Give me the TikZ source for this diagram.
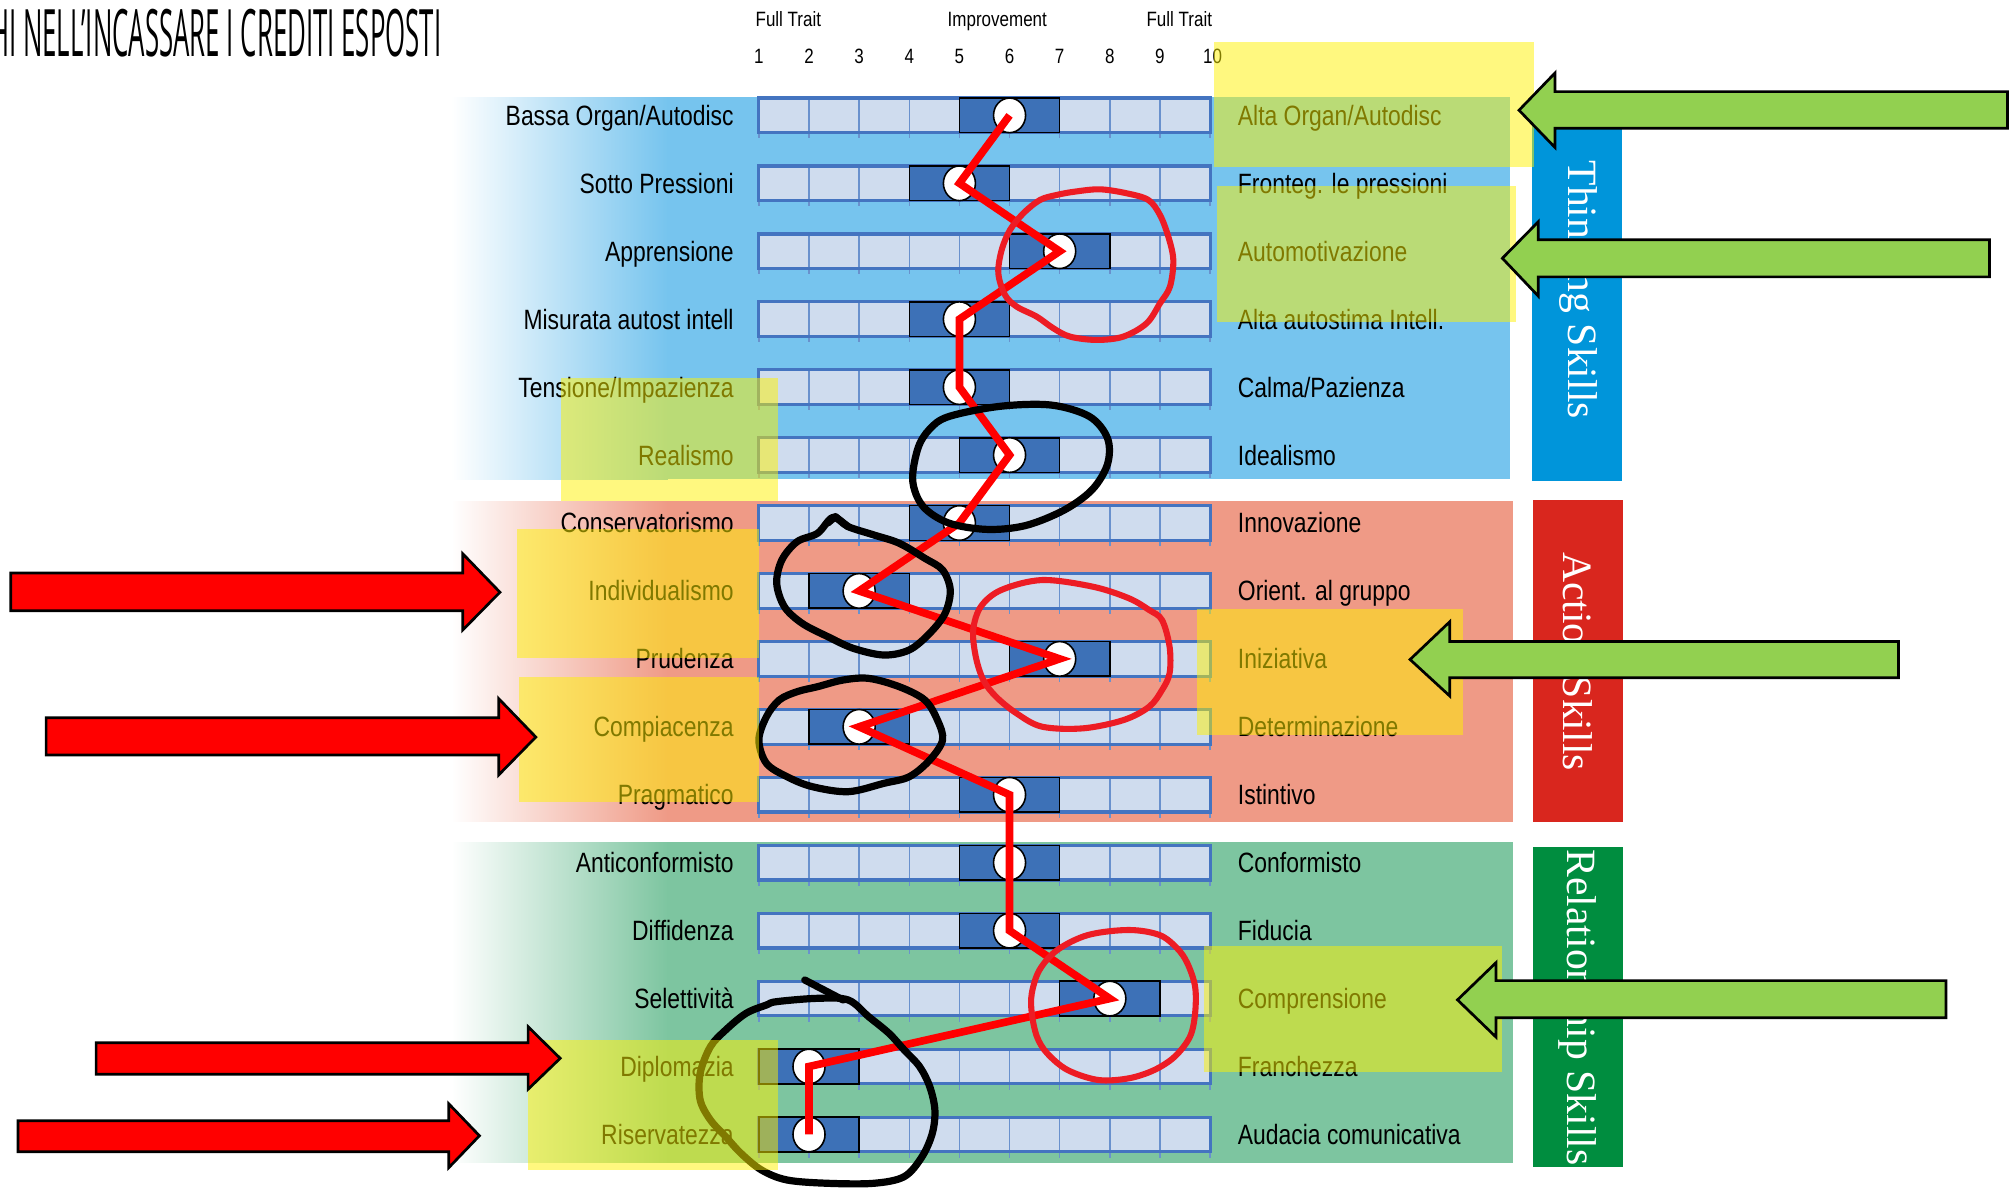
\documentclass[tikz,border=0pt]{standalone}
\usepackage{fontspec}
\setmainfont{Liberation Sans}
\newfontfamily\narrowfont[FakeStretch=0.82]{Liberation Sans}
\newfontfamily\sidefont{Liberation Serif}
\newfontfamily\titlefont{Open Sans}
\usepackage{graphicx}
\usetikzlibrary{shapes.geometric}
\definecolor{pblue}{RGB}{118,196,238}
\definecolor{psalmon}{RGB}{239,154,134}
\definecolor{pgreen}{RGB}{125,197,160}
\definecolor{sblue}{RGB}{0,149,218}
\definecolor{sred}{RGB}{217,38,30}
\definecolor{sgreen}{RGB}{0,141,63}
\definecolor{barfillc}{RGB}{207,220,238}
\definecolor{barborderc}{RGB}{68,116,192}
\definecolor{celllinec}{RGB}{105,145,205}
\definecolor{blockc}{RGB}{61,113,183}
\definecolor{handredc}{RGB}{237,28,36}
\definecolor{garrowc}{RGB}{146,208,80}
\def\cw{39.111}
\newcommand\traitrow[5]{%
  \fill[barfillc] (592,#2-13.5) rectangle (944,#2+13.5);
  \foreach \j in {1,...,8} \draw[cellline] (592+\j*\cw,#2-13.5) -- (592+\j*\cw,#2+13.5);
  \foreach \j in {0,...,9} \draw[cellline] (592+\j*\cw,#2+13.5) -- (592+\j*\cw,#2+18);
  \draw[barborder] (592,#2-13.5) rectangle (944,#2+13.5);
  \draw[blockst] (592+#3*\cw-\cw,#2-13.5) rectangle (592+#3*\cw+\cw,#2+13.5);
  \node[dot] (#1) at (592+#3*\cw,#2) {};
  \node[leftlab] (#1l) at (573,#2+7.8) {#4};
  \node[rightlab] (#1r) at (965,#2+7.8) {#5};
}
\begin{document}
\begin{tikzpicture}[x=0.1mm,y=-0.1mm,
  cellline/.style={draw=celllinec,line width=0.3pt},
  barborder/.style={draw=barborderc,line width=0.7pt},
  blockst/.style={fill=blockc,draw=black,line width=0.35pt},
  dot/.style={ellipse,draw=black,fill=white,line width=0.35pt,minimum width=2.5mm,minimum height=2.7mm,inner sep=0pt},
  leftlab/.style={anchor=base east,inner sep=0pt,font=\narrowfont\fontsize{6.2}{7}\selectfont},
  rightlab/.style={anchor=base west,inner sep=0pt,font=\narrowfont\fontsize{6.2}{7}\selectfont},
  hdr/.style={anchor=base,inner sep=0pt,font=\narrowfont\fontsize{4.6}{5}\selectfont},
  sidelab/.style={rotate=-90,text=white,inner sep=0pt,font=\sidefont\fontsize{9.25}{10}\selectfont},
  redpath/.style={draw=red,line width=1.7pt,line join=miter},
  handred/.style={draw=handredc,line width=1.35pt,line join=round,line cap=round},
  handblack/.style={draw=black,line width=1.6pt,line join=round,line cap=round},
  hl/.style={fill=yellow,fill opacity=0.5},
  rarrow/.style={fill=red,draw=black,line width=0.6pt,line join=miter},
  garrow/.style={fill=garrowc,draw=black,line width=0.6pt,line join=miter}]
\useasboundingbox (0,0) rectangle (1568,927);
\clip (0,0) rectangle (1568,927);
\fill[white] (0,0) rectangle (1568,927);
% panels
\shade[left color=white,right color=pblue] (352,76) rectangle (521,374);
\fill[pblue] (520,76) rectangle (1178,374);
\shade[left color=white,right color=psalmon] (352,391) rectangle (521,641);
\fill[psalmon] (520,391) rectangle (1180,641);
\shade[left color=white,right color=pgreen] (352,657) rectangle (521,907);
\fill[pgreen] (520,657) rectangle (1180,907);
% side bars
\fill[sblue] (1195,77) rectangle (1265,375);
\node[sidelab] (thk) at (1231,226) {Thinking Skills};
\fill[sred] (1196,390) rectangle (1266,641);
\node[sidelab] (act) at (1231,516) {Action Skills};
\fill[sgreen] (1196,661) rectangle (1266,910);
\node[sidelab] (rel) at (1231,786) {Relationship Skills};
% header
\node[hdr] (h1) at (615,20.3) {Full Trait};
\node[hdr] (h2) at (778,20.3) {Improvement};
\node[hdr] (h3) at (920,20.3) {Full Trait};
\foreach \n in {1,...,9} \node[hdr] (n\n) at (592+\n*\cw-\cw,49.4) {\n};
\node[hdr] (n10) at (946,49.4) {10};
% rows
\traitrow{c1}{90}{5}{Bassa Organ/Autodisc}{Alta Organ/Autodisc}
\traitrow{c2}{143}{4}{Sotto Pressioni}{Fronteg. le pressioni}
\traitrow{c3}{196}{6}{Apprensione}{Automotivazione}
\traitrow{c4}{249}{4}{Misurata autost intell}{Alta autostima Intell.}
\traitrow{c5}{302}{4}{Tensione/Impazienza}{Calma/Pazienza}
\traitrow{c6}{355}{5}{Realismo}{Idealismo}
\traitrow{c7}{408}{4}{Conservatorismo}{Innovazione}
\traitrow{c8}{461}{2}{Individualismo}{Orient. al gruppo}
\traitrow{c9}{514}{6}{Prudenza}{Iniziativa}
\traitrow{c10}{567}{2}{Compiacenza}{Determinazione}
\traitrow{c11}{620}{5}{Pragmatico}{Istintivo}
\traitrow{c12}{673}{5}{Anticonformisto}{Conformisto}
\traitrow{c13}{726}{5}{Diffidenza}{Fiducia}
\traitrow{c14}{779}{7}{Selettività}{Comprensione}
\traitrow{c15}{832}{1}{Diplomazia}{Franchezza}
\traitrow{c16}{885}{1}{Riservatezza}{Audacia comunicativa}
% red profile line
\draw[redpath] (c1.center) -- (c2.center) -- (c3.center) -- (c4.center) -- (c5.center) -- (c6.center) -- (c7.center) -- (c8.center) -- (c9.center) -- (c10.center) -- (c11.center) -- (c12.center) -- (c13.center) -- (c14.center) -- (c15.center) -- (c16.center);
% hand-drawn red circles
\draw[handred] plot[smooth cycle,tension=0.55] coordinates {(838.6,149.5) (858.1,147.7) (878.9,150.8) (895.8,156) (904.9,167.7) (911.4,184.6) (915.3,202.8) (912.7,223.6) (904.9,236.6) (894.5,252.2) (876.3,262.6) (855.5,265.2) (834.7,262.6) (821.7,256.1) (808.7,247) (793.1,239.2) (784,230.1) (778.8,213.2) (781.4,195) (787.9,179.4) (798.3,166.4) (811.3,156) (824.3,152.1)};
\draw[handred] plot[smooth cycle,tension=0.55] coordinates {(812.9,452.5) (852.6,457.7) (880.6,466.7) (896.5,475.9) (906.5,483.7) (912.4,504.5) (912.4,525.2) (906.5,538.3) (896.5,551.3) (876.6,561.7) (844.8,568.2) (812.9,566.9) (793,556.5) (777,543.5) (767.1,530.5) (761.2,512.3) (759.2,491.5) (765.1,473.3) (781,460.3)};
\draw[handred] plot[smooth cycle,tension=0.55] coordinates {(848.8,729.4) (880.6,725.5) (904.5,729.4) (918.3,739.8) (926.3,751.5) (932.3,769.7) (932.3,790.5) (928.3,808.7) (916.4,824.3) (900.5,834.7) (880.6,841.2) (856.7,842.5) (832.8,834.7) (816.9,821.7) (808.9,808.7) (804.9,790.5) (804.9,774.9) (810.9,756.7) (824.8,741.1)};
% hand-drawn black circles
\draw[handblack] plot[smooth cycle,tension=0.55] coordinates {(740,325) (780,317) (820,316) (850,325) (864,342) (864,362) (852,382) (830,398) (800,410) (770,413) (740,408) (720,395) (712,375) (716,350) (725,335)};
\draw[handblack] plot[smooth cycle,tension=0.55] coordinates {(649.8,403.6) (661.7,410.9) (681.6,417.3) (701.5,423.8) (721.4,435.5) (735.3,444.6) (741.3,460.3) (737.3,478.4) (725.3,494) (709.4,507) (689.5,511) (665.7,505.8) (645.8,496.7) (625.8,486.3) (611.9,473.3) (605.9,455) (609.9,436.9) (621.8,422.6) (637.8,416)};
\draw[handblack] (645.8,408) -- (651.7,403) -- (661.7,410.9);
\draw[handblack] plot[smooth cycle,tension=0.55] coordinates {(657.7,530.5) (677.6,529.2) (701.5,535.7) (721.4,546.1) (731.3,561.7) (735.3,577.3) (725.3,592.9) (709.4,605.9) (689.5,611.1) (661.7,617.6) (633.7,613.7) (613.9,605.9) (597.9,595.5) (592,577.3) (597.9,559.1) (607.9,546.1) (621.8,539.6) (637.8,535.7)};
\draw[handblack] plot[smooth cycle,tension=0.55] coordinates {(605.9,781.4) (637.8,778.8) (661.7,780.1) (677.6,793.1) (693.5,806.1) (705.4,819.1) (717.4,832.1) (725.3,847.7) (729.3,865.9) (727.3,884.1) (719.3,902.3) (705.4,917.9) (681.6,923.1) (645.8,923.1) (613.9,920.5) (594,912.7) (578,899.7) (566.1,886.7) (554.2,873.7) (546.2,858.1) (546.2,837.3) (554.2,816.5) (566.1,803.5) (582,790.5) (597.9,784)};
\draw[handblack] (627.8,764.5) -- (657.7,780.1);
% yellow highlighter
\fill[hl] (947,33) rectangle (1197,130);
\fill[hl] (949,145) rectangle (1183,251);
\fill[hl] (438,295) rectangle (607,391);
\fill[hl] (403,413) rectangle (592,513);
\fill[hl] (405,528) rectangle (592,626);
\fill[hl] (934,475) rectangle (1141,573);
\fill[hl] (939,738) rectangle (1172,836);
\fill[hl] (412,811) rectangle (607,913);
% red arrows
\draw[rarrow] (8.4,447) -- (361,447) -- (361,432) -- (390,462) -- (361,491.5) -- (361,476.5) -- (8.4,476.5) -- cycle;
\draw[rarrow] (36,560) -- (389,560) -- (389,545) -- (418,575) -- (389,604.6) -- (389,589) -- (36,589) -- cycle;
\draw[rarrow] (75,813.5) -- (412,813.5) -- (412,801) -- (437,825.6) -- (412,849.7) -- (412,838) -- (75,838) -- cycle;
\draw[rarrow] (14,874.3) -- (350,874.3) -- (350,861) -- (374,886) -- (350,911) -- (350,898.5) -- (14,898.5) -- cycle;
% green arrows
\draw[garrow] (1566,71.5) -- (1213,71.5) -- (1213,57) -- (1185,86) -- (1213,115) -- (1213,100) -- (1566,100) -- cycle;
\draw[garrow] (1552,187) -- (1200,187) -- (1200,173) -- (1172,201.5) -- (1200,231) -- (1200,216) -- (1552,216) -- cycle;
\draw[garrow] (1481,500.4) -- (1131,500.4) -- (1131,485) -- (1100,514.5) -- (1131,543) -- (1131,528.7) -- (1481,528.7) -- cycle;
\draw[garrow] (1518,765) -- (1167,765) -- (1167,751) -- (1137,780) -- (1167,809) -- (1167,794) -- (1518,794) -- cycle;
% title
\node[anchor=base east,inner sep=0pt] (title) at (345,44) {\resizebox{35.2mm}{3.7mm}{\titlefont HI NELL’INCASSARE I CREDITI ESPOSTI}};
\end{tikzpicture}
\end{document}
